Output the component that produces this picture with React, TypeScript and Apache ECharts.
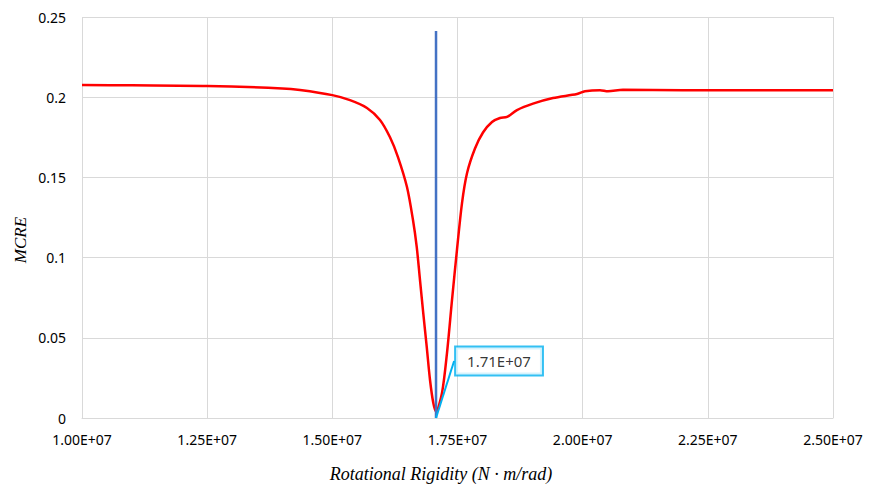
import React, { useEffect, useRef } from "react";
import * as echarts from "echarts";

// Red curve: rotational rigidity (N·m/rad) vs MCRE
const rigidity: number[] = [
  1.0e7, 1.1e7, 1.25e7, 1.4e7, 1.4354e7, 1.5e7, 1.5353e7, 1.5692e7, 1.5952e7,
  1.6152e7, 1.6311e7, 1.6491e7, 1.6611e7, 1.6685e7, 1.6751e7, 1.6817e7,
  1.6885e7, 1.6951e7, 1.7017e7, 1.7071e7, 1.719e7, 1.729e7, 1.739e7, 1.749e7,
  1.759e7, 1.769e7, 1.7849e7, 1.8009e7, 1.8189e7, 1.8349e7, 1.8489e7,
  1.8688e7, 1.9008e7, 1.9407e7, 1.9887e7, 2.0046e7, 2.0346e7, 2.0506e7,
  2.0805e7, 2.2e7, 2.5e7,
];
const mcre: number[] = [
  0.2076, 0.2074, 0.207, 0.2055, 0.2045, 0.2013, 0.1982, 0.1933, 0.1858,
  0.175, 0.1627, 0.144, 0.1234, 0.1068, 0.086, 0.065, 0.0445, 0.0237, 0.0093,
  0.004, 0.0156, 0.0405, 0.0735, 0.105, 0.134, 0.1526, 0.168, 0.178, 0.1845,
  0.187, 0.1877, 0.192, 0.196, 0.1995, 0.202, 0.2037, 0.2044, 0.2037, 0.2046,
  0.2044, 0.2044,
];

// Blue marker line at the identified rigidity
const markerX: number[] = [1.7071e7, 1.7071e7];
const markerY: number[] = [0, 0.2412];
const markerLabel = "1.71E+07";

const xTicks = { min: 1.0e7, max: 2.5e7, interval: 2.5e6 };
const yTicks = { min: 0, max: 0.25, interval: 0.05 };

export default function App() {
  const ref = useRef<HTMLDivElement>(null);

  useEffect(() => {
    if (!ref.current) return;
    const chart = echarts.init(ref.current, undefined, { renderer: "svg" });
    const labelFont = "'Noto Sans', 'Open Sans', sans-serif";
    chart.setOption({
      animation: false,
      backgroundColor: "#ffffff",
      grid: { left: 82, right: 36, top: 17, bottom: 71, containLabel: false },
      xAxis: {
        type: "value",
        min: xTicks.min,
        max: xTicks.max,
        interval: xTicks.interval,
        axisLine: { show: true, lineStyle: { color: "#d9d9d9" } },
        axisTick: { show: false },
        splitLine: { show: true, lineStyle: { color: "#d9d9d9", width: 1 } },
        axisLabel: {
          color: "#000",
          fontSize: 14,
          fontFamily: labelFont,
          margin: 14,
          formatter: (v: number) => (v / 1e7).toFixed(2) + "E+07",
        },
      },
      yAxis: {
        type: "value",
        min: yTicks.min,
        max: yTicks.max,
        interval: yTicks.interval,
        axisLine: { show: false },
        axisTick: { show: false },
        splitLine: { show: true, lineStyle: { color: "#d9d9d9", width: 1 } },
        axisLabel: {
          color: "#000",
          fontSize: 14,
          fontFamily: labelFont,
          margin: 16,
        },
      },
      graphic: [
        {
          type: "text",
          x: 441,
          y: 474,
          style: {
            text: "Rotational Rigidity (N · m/rad)",
            fontFamily: "'Liberation Serif', 'DejaVu Serif', serif",
            fontStyle: "italic",
            fontSize: 18,
            fill: "#000",
            textAlign: "center",
            textVerticalAlign: "middle",
          },
        },
        {
          type: "text",
          x: 20,
          y: 240,
          rotation: Math.PI / 2,
          style: {
            text: "MCRE",
            fontFamily: "'Liberation Serif', 'DejaVu Serif', serif",
            fontStyle: "italic",
            fontSize: 17,
            fill: "#000",
            textAlign: "center",
            textVerticalAlign: "middle",
          },
        },
      ],
      series: [
        {
          type: "line",
          data: rigidity.map((x, i) => [x, mcre[i]]),
          showSymbol: false,
          smooth: 0.3,
          lineStyle: { color: "#ff0000", width: 2.5 },
          z: 3,
        },
        {
          type: "line",
          data: markerX.map((x, i) => [x, markerY[i]]),
          showSymbol: false,
          lineStyle: { color: "#4472c4", width: 2.5 },
          z: 4,
        },
        {
          type: "scatter",
          data: [[markerX[0], markerY[0]]],
          symbolSize: 0,
          z: 5,
          label: {
            show: true,
            position: "inside",
            formatter: () => markerLabel,
            color: "#000",
            fontSize: 15,
            fontFamily: labelFont,
            backgroundColor: "#ffffff",
            borderColor: "#00b0f0",
            borderWidth: 2,
            padding: [6, 11, 6, 11],
          },
          labelLayout: { dx: 63, dy: -57 },
          labelLine: {
            show: true,
            lineStyle: { color: "#00b0f0", width: 2 },
          },
        },
      ],
    });
    return () => chart.dispose();
  }, []);

  return (
    <div
      ref={ref}
      style={{ position: "fixed", left: 0, top: 0, width: 869, height: 489 }}
    />
  );
}
